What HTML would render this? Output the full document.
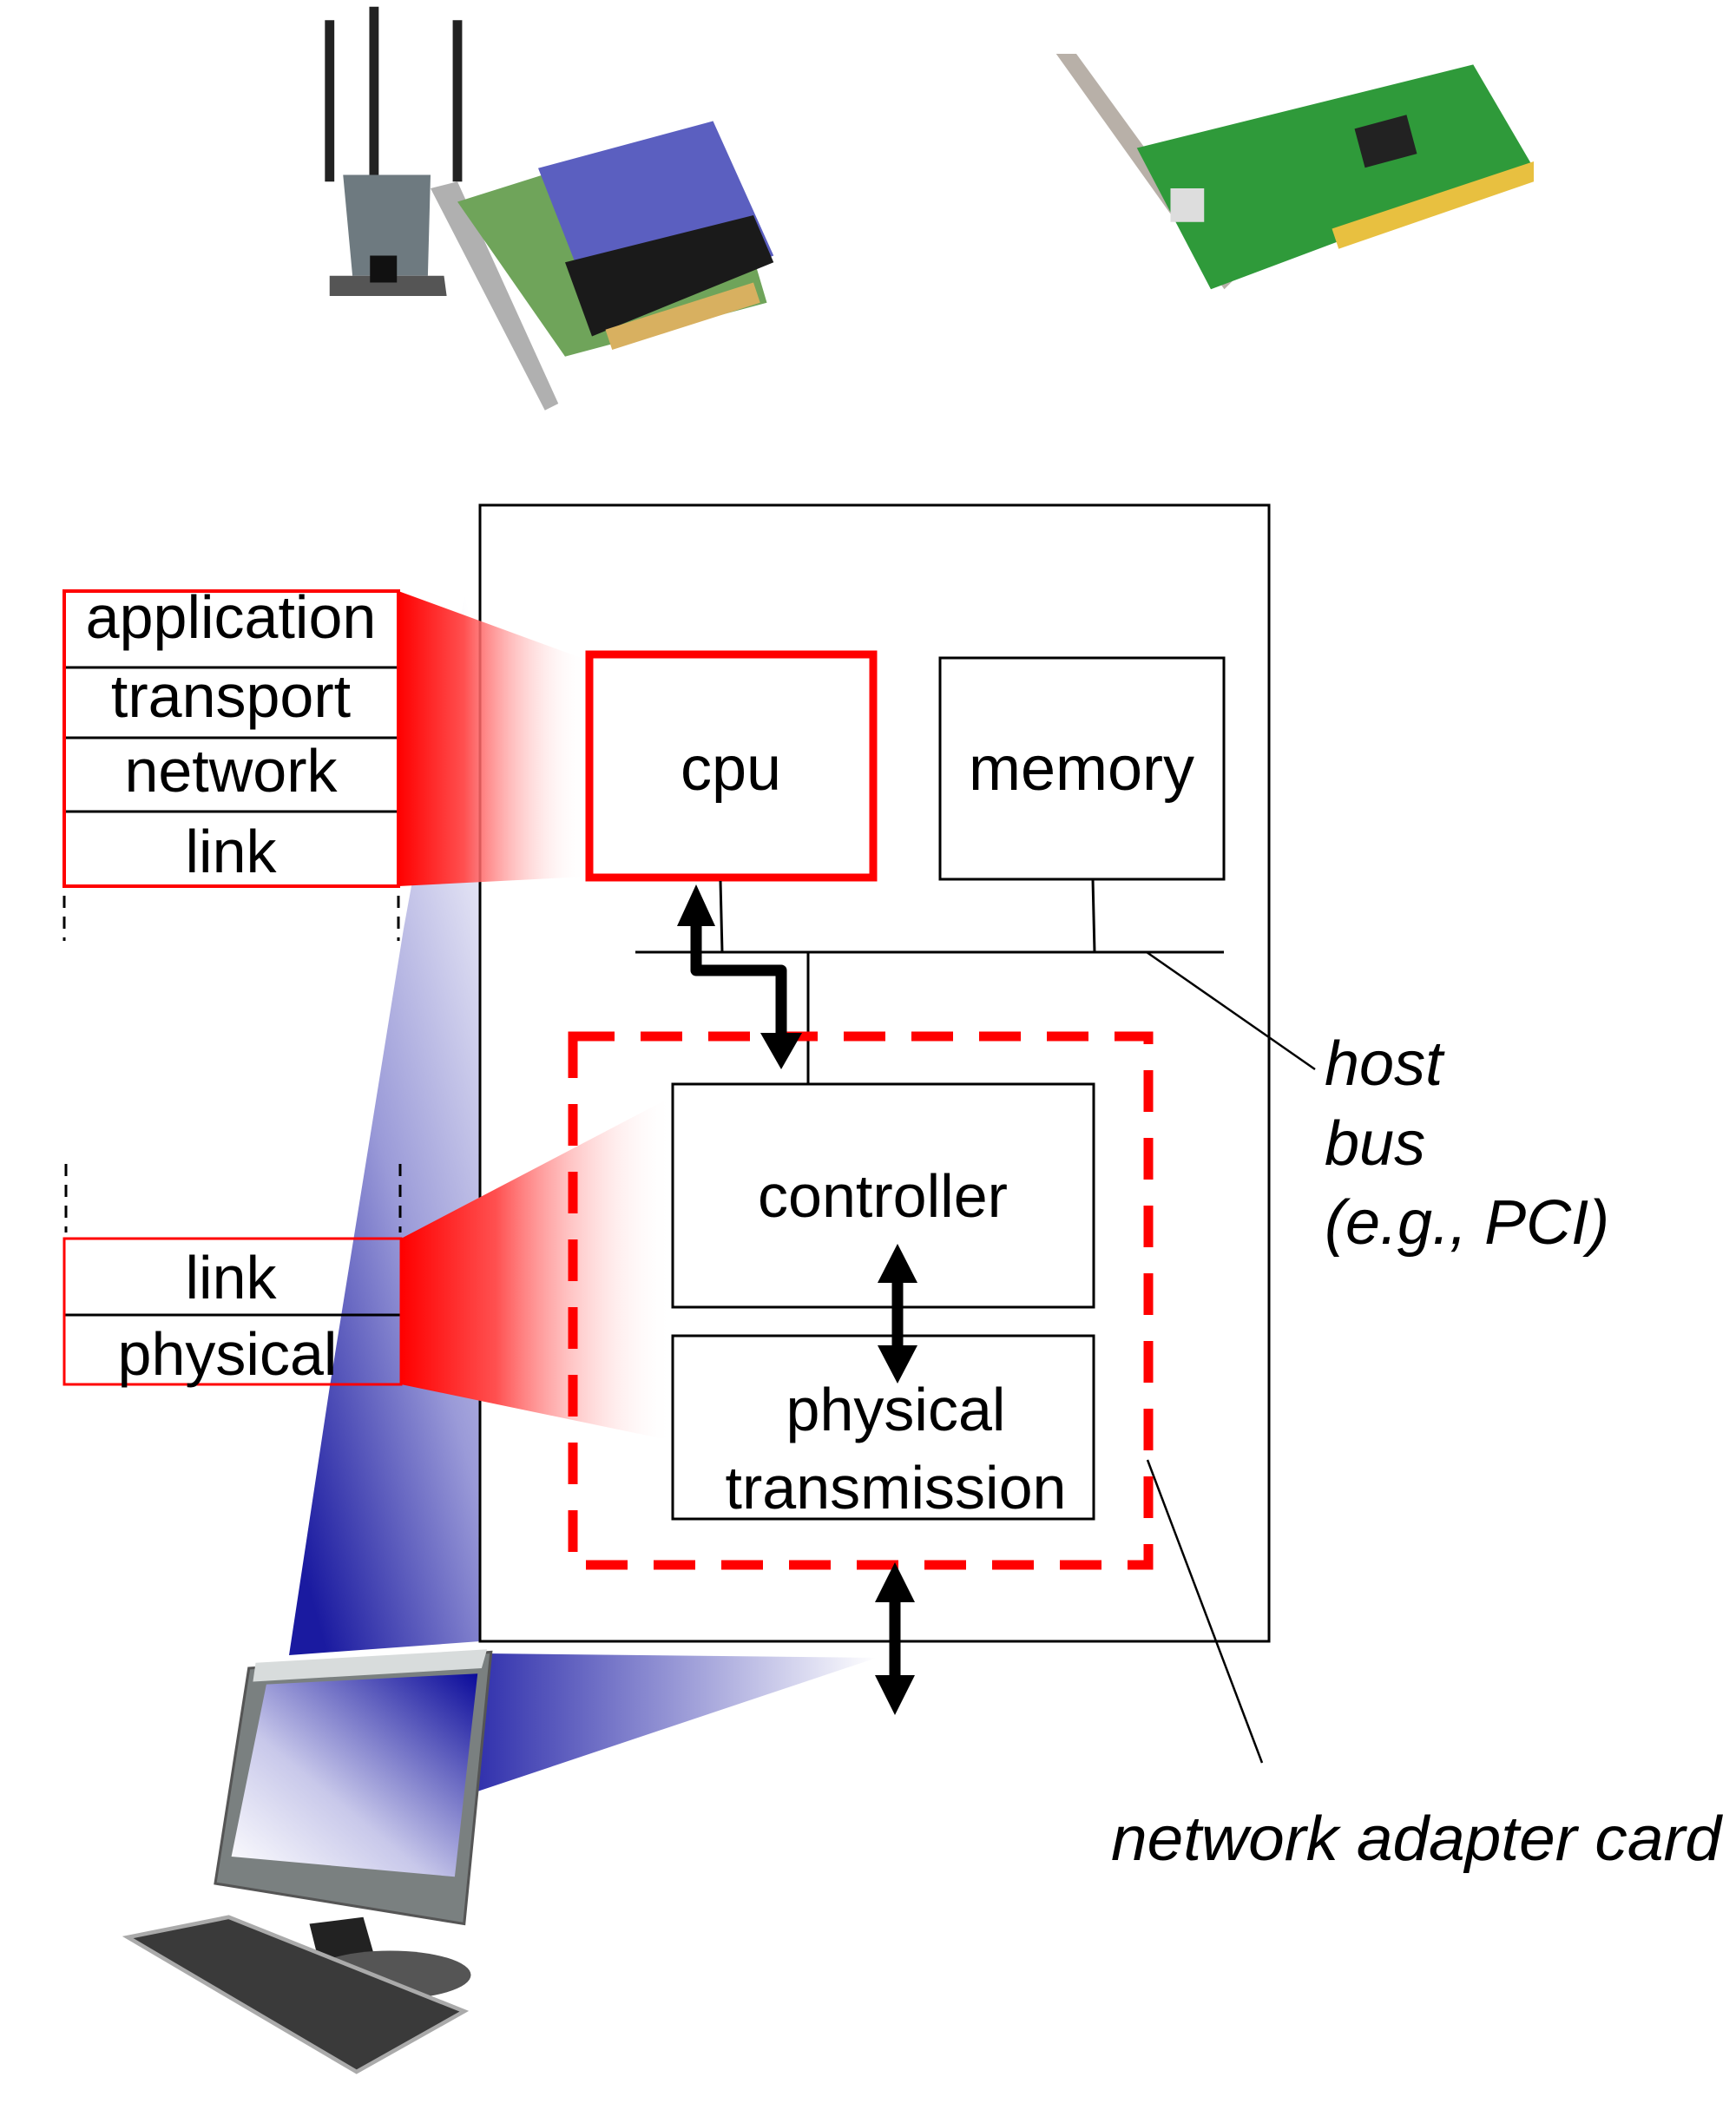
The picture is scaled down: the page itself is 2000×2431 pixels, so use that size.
<!DOCTYPE html>
<html><head><meta charset="utf-8"><style>
html,body{margin:0;padding:0;background:#fff;}
svg{display:block;}
text{font-family:"Liberation Sans",Arial,sans-serif;fill:#000;}
</style></head><body>
<svg width="2000" height="2431" viewBox="0 0 2000 2431" xmlns="http://www.w3.org/2000/svg">
<defs>
<linearGradient id="red1" x1="0" y1="0" x2="1" y2="0">
<stop offset="0" stop-color="#ff0000"/><stop offset="0.35" stop-color="#ff5050"/><stop offset="1" stop-color="#ffffff" stop-opacity="0"/>
</linearGradient>
<linearGradient id="blue1" x1="0.2" y1="1" x2="0.8" y2="0">
<stop offset="0" stop-color="#1a1aa0"/><stop offset="0.45" stop-color="#9a9ad8"/><stop offset="1" stop-color="#ffffff"/>
</linearGradient>
<linearGradient id="blue2" x1="0" y1="0" x2="1" y2="0">
<stop offset="0" stop-color="#2a2aaa"/><stop offset="1" stop-color="#ffffff"/>
</linearGradient>
<linearGradient id="scr" x1="1" y1="0" x2="0" y2="1">
<stop offset="0" stop-color="#0a0a9a"/><stop offset="0.6" stop-color="#c8c8ea"/><stop offset="1" stop-color="#ffffff"/>
</linearGradient>
</defs>

<!-- blue fans -->
<polygon points="465,1070 553,589 553,1891 333,1907 380,1597" fill="url(#blue1)"/>
<polygon points="560,1905 1010,1910 535,2069" fill="url(#blue2)"/>

<!-- main box -->
<rect x="553" y="582" width="909" height="1309" fill="#fff" stroke="#000" stroke-width="3"/>

<!-- red fans -->
<polygon points="459,681 675,760 675,1010 459,1021" fill="url(#red1)"/>
<polygon points="462,1427 775,1263 775,1660 462,1595" fill="url(#red1)"/>

<!-- protocol stacks -->
<g stroke="#000" stroke-width="3" fill="none">
<line x1="74" y1="769" x2="459" y2="769"/>
<line x1="74" y1="850" x2="459" y2="850"/>
<line x1="74" y1="935" x2="459" y2="935"/>
<line x1="74" y1="1515" x2="462" y2="1515"/>
<line x1="74" y1="1032" x2="74" y2="1084" stroke-dasharray="14 10"/>
<line x1="459" y1="1032" x2="459" y2="1084" stroke-dasharray="14 10"/>
<line x1="76" y1="1341" x2="76" y2="1420" stroke-dasharray="14 10"/>
<line x1="461" y1="1341" x2="461" y2="1420" stroke-dasharray="14 10"/>
</g>
<rect x="74" y="681" width="385" height="340" fill="none" stroke="#f00" stroke-width="4"/>
<rect x="74" y="1427" width="388" height="168" fill="none" stroke="#f00" stroke-width="3"/>
<g font-size="70" text-anchor="middle">
<text x="266" y="735">application</text>
<text x="266" y="826">transport</text>
<text x="266" y="912">network</text>
<text x="266" y="1005">link</text>
<text x="266" y="1496">link</text>
<text x="262" y="1584">physical</text>
</g>

<!-- cpu / memory -->
<rect x="679" y="754" width="327" height="257" fill="#fff" stroke="#f00" stroke-width="9"/>
<rect x="1083" y="758" width="327" height="255" fill="#fff" stroke="#000" stroke-width="3"/>
<text x="842" y="910" font-size="72" text-anchor="middle">cpu</text>
<text x="1246" y="910" font-size="72" text-anchor="middle">memory</text>

<!-- bus -->
<g stroke="#000" stroke-width="3">
<line x1="732" y1="1097" x2="1410" y2="1097"/>
<line x1="830" y1="1015" x2="832" y2="1097"/>
<line x1="1259" y1="1013" x2="1261" y2="1097"/>
<line x1="931" y1="1097" x2="931" y2="1249"/>
<line x1="1321" y1="1097" x2="1515" y2="1232" stroke-width="2.5"/>
<line x1="1322" y1="1682" x2="1454" y2="2031" stroke-width="2.5"/>
</g>

<!-- dashed adapter box -->
<rect x="660" y="1194" width="663" height="609" fill="none" stroke="#f00" stroke-width="11" stroke-dasharray="48 30"/>

<!-- controller / physical -->
<rect x="775" y="1249" width="485" height="257" fill="#fff" stroke="#000" stroke-width="3"/>
<rect x="775" y="1539" width="485" height="211" fill="#fff" stroke="#000" stroke-width="3"/>
<text x="1017" y="1402" font-size="70" text-anchor="middle">controller</text>
<text x="1032" y="1648" font-size="70" text-anchor="middle">physical</text>
<text x="1032" y="1738" font-size="70" text-anchor="middle">transmission</text>

<!-- arrows -->
<g fill="#000">
<polyline points="802,1060 802,1118 900,1118 900,1200" fill="none" stroke="#000" stroke-width="13" stroke-linejoin="round"/>
<polygon points="802,1019 780,1067 824,1067"/>
<polygon points="900,1232 876,1190 924,1190"/>
<line x1="1034" y1="1465" x2="1034" y2="1560" stroke="#000" stroke-width="13"/>
<polygon points="1034,1433 1011,1478 1057,1478"/>
<polygon points="1034,1594 1011,1550 1057,1550"/>
<line x1="1031" y1="1835" x2="1031" y2="1940" stroke="#000" stroke-width="13"/>
<polygon points="1031,1800 1008,1846 1054,1846"/>
<polygon points="1031,1976 1008,1930 1054,1930"/>
</g>

<!-- labels -->
<g font-size="72" font-style="italic">
<text x="1526" y="1250">host</text>
<text x="1526" y="1342">bus</text>
<text x="1526" y="1433">(e.g., PCI)</text>
<text x="1280" y="2143" textLength="703" lengthAdjust="spacingAndGlyphs">network adapter card</text>
</g>

<!-- computer -->
<g transform="scale(1.55)">
<polygon points="185,1240 365,1228 345,1430 160,1400" fill="#7a8080" stroke="#555" stroke-width="2"/>
<polygon points="190,1236 362,1226 358,1240 188,1250" fill="#d8dcdc"/>
<polygon points="198,1252 355,1244 338,1395 172,1380" fill="url(#scr)"/>
<polygon points="230,1430 270,1425 280,1460 240,1470" fill="#222"/>
<ellipse cx="290" cy="1468" rx="60" ry="18" fill="#555"/>
<polygon points="95,1440 170,1425 345,1495 265,1540" fill="#3a3a3a" stroke="#aaa" stroke-width="3"/>
</g>

<!-- wireless card -->
<g transform="scale(1.55)">
<line x1="245" y1="15" x2="245" y2="135" stroke="#222" stroke-width="7"/>
<line x1="278" y1="5" x2="278" y2="135" stroke="#222" stroke-width="7"/>
<line x1="340" y1="15" x2="340" y2="135" stroke="#222" stroke-width="7"/>
<polygon points="255,130 320,130 318,205 262,205" fill="#6e7a80"/>
<polygon points="245,205 330,205 332,220 245,220" fill="#555"/>
<rect x="275" y="190" width="20" height="20" fill="#111"/>
<polygon points="320,140 340,135 415,300 405,305" fill="#b0b0b0"/>
<polygon points="340,150 530,90 570,225 420,265" fill="#6fa45a"/>
<polygon points="400,125 530,90 575,190 445,240" fill="#5b5fc0"/>
<polygon points="420,195 560,160 575,195 440,250" fill="#1a1a1a"/>
<polygon points="450,245 560,210 565,225 455,260" fill="#d8b060"/>
</g>

<!-- NIC card -->
<g transform="scale(1.55)">
<polygon points="785,40 800,40 920,205 910,215" fill="#b8b0a8"/>
<polygon points="845,110 1095,48 1140,125 900,215" fill="#2f9a3a"/>
<polygon points="990,170 1140,120 1140,135 995,185" fill="#e8c040"/>
<rect x="1010" y="90" width="40" height="30" fill="#222" transform="rotate(-15 1030 105)"/>
<rect x="870" y="140" width="25" height="25" fill="#ddd"/>
</g>
</svg>
</body></html>
